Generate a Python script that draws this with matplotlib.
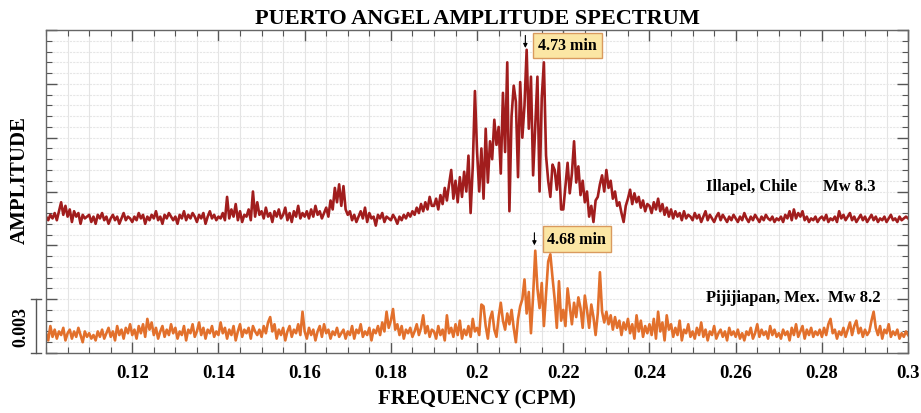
import numpy as np
import matplotlib
matplotlib.use('Agg')
import matplotlib.pyplot as plt
from matplotlib.ticker import MultipleLocator
from matplotlib.lines import Line2D

# frequency axis (CPM), sampled every 0.0005
freq_start = 0.100
freq_step = 0.0005

# amplitudes in units of 1e-3
illapel = [
    7.6, 7.4, 7.7, 7.5, 7.8, 7.4, 7.9, 8.4, 7.7, 8.2, 7.6, 8.0, 7.3, 7.9, 7.6, 7.8, 7.2, 7.7, 7.5, 7.6,
    7.7, 7.3, 7.6, 7.2, 7.7, 7.5, 7.8, 7.4, 7.6, 7.2, 7.5, 7.7, 7.4, 7.6, 7.2, 7.5, 7.8, 7.4, 7.6, 7.5,
    7.3, 7.6, 7.4, 7.8, 7.5, 7.7, 7.2, 7.6, 7.4, 7.7, 7.5, 7.9, 7.4, 7.6, 7.2, 7.7, 7.5, 7.8, 7.6, 7.4,
    7.6, 7.2, 7.7, 7.5, 7.9, 7.4, 7.7, 7.5, 7.8, 7.6, 7.3, 7.7, 7.5, 7.8, 7.2, 7.6, 7.9, 7.5, 7.7, 7.4,
    7.6, 7.5, 7.8, 7.4, 8.7, 7.5, 8.0, 7.6, 8.3, 7.4, 7.9, 7.3, 7.7, 7.6, 8.0, 7.4, 9.0, 7.6, 8.4, 7.7,
    7.9, 7.5, 8.1, 7.6, 7.8, 7.3, 7.9, 7.6, 8.0, 7.5, 7.7, 8.1, 7.4, 7.8, 7.3, 7.9, 7.6, 8.2, 7.5, 7.8,
    7.6, 7.9, 7.5, 8.0, 7.6, 8.2, 7.7, 7.9, 7.5, 7.8, 8.1, 7.6, 8.5, 8.0, 9.2, 8.4, 9.4, 8.2, 9.3, 8.0,
    7.7, 7.9, 7.4, 7.7, 7.3, 7.6, 7.9, 7.5, 8.1, 7.3, 7.8, 7.5, 7.6, 7.1, 7.7, 7.5, 7.8, 7.3, 7.6, 7.5,
    7.4, 7.7, 7.5, 7.2, 7.6, 7.4, 7.7, 7.5, 7.8, 7.6, 7.9, 7.7, 8.1, 7.8, 8.3, 7.9, 8.4, 8.0, 8.7, 8.2,
    8.2, 8.6, 8.0, 8.8, 8.3, 9.2, 8.5, 9.4, 10.2, 8.6, 9.6, 8.4, 9.8, 8.7, 10.1, 9.0, 11.0, 7.8, 10.4, 14.6,
    11.2, 9.0, 11.4, 8.6, 12.5, 9.5, 11.8, 10.8, 13.0, 11.6, 12.6, 10.0, 14.5, 11.2, 16.2, 7.9, 13.2, 14.9, 14.0, 9.8,
    15.1, 12.0, 13.8, 16.9, 12.5, 15.4, 9.9, 12.6, 15.4, 9.0, 14.2, 16.2, 11.0, 9.6, 8.7, 10.5, 10.2, 9.1, 10.6, 8.0,
    8.0, 9.3, 10.6, 8.9, 10.0, 11.8, 9.5, 10.4, 8.8, 9.6, 8.4, 9.0, 7.6, 8.2, 7.3, 8.5, 8.7, 9.4, 9.9, 9.0,
    10.2, 9.2, 9.6, 8.6, 9.0, 8.2, 8.4, 7.8, 7.3, 8.2, 8.6, 9.1, 8.3, 8.9, 8.4, 8.7, 8.1, 8.5, 7.9, 8.3,
    8.2, 7.8, 8.4, 8.0, 8.6, 7.9, 8.3, 7.7, 8.1, 7.6, 8.0, 7.5, 7.9, 7.6, 7.8, 7.4, 7.9, 7.5, 7.7, 7.6,
    7.4, 7.8, 7.5, 7.7, 7.3, 7.6, 7.9, 7.4, 7.7, 7.5, 7.3, 7.6, 7.8, 7.4, 7.7, 7.5, 7.3, 7.6, 7.4, 7.7,
    7.5, 7.3, 7.6, 7.4, 7.8, 7.5, 7.3, 7.6, 7.4, 7.7, 7.5, 7.3, 7.6, 7.4, 7.7, 7.5, 7.4, 7.6, 7.3, 7.5,
    7.4, 7.6, 7.3, 7.7, 7.5, 7.9, 7.4, 8.0, 7.5, 7.8, 7.6, 7.9, 7.4, 7.6, 7.3, 7.5, 7.4, 7.6, 7.3, 7.5,
    7.6, 7.4, 7.7, 7.3, 7.5, 7.4, 7.6, 7.3, 7.9, 7.5, 7.7, 7.4, 7.6, 7.8, 7.4, 7.6, 7.3, 7.5, 7.7, 7.4,
    7.6, 7.3, 7.5, 7.7, 7.4, 7.6, 7.3, 7.5, 7.4, 7.6, 7.3, 7.5, 7.7, 7.4, 7.5, 7.3, 7.6, 7.4, 7.5, 7.6, 7.5,
]

pijijiapan = [
    1.1, 0.7, 1.5, 0.9, 1.3, 0.8, 1.2, 1.0, 1.4, 0.7, 1.1, 1.3, 0.8, 1.2, 0.9, 1.4, 1.0, 0.6, 1.2, 0.9,
    1.1, 0.8, 1.0, 0.7, 1.2, 0.9, 1.3, 0.8, 1.1, 1.4, 0.9, 1.2, 0.7, 1.5, 1.0, 1.3, 0.8, 1.4, 1.1, 1.6,
    1.0, 1.3, 0.8, 1.5, 1.1, 1.6, 0.9, 1.9, 1.3, 1.7, 1.0, 1.4, 0.8, 1.2, 1.5, 0.9, 1.3, 1.0, 1.6, 1.1,
    1.4, 0.8, 1.2, 1.0, 1.5, 0.7, 1.3, 1.1, 1.6, 0.9, 1.2, 1.7, 1.0, 1.4, 0.8, 1.3, 1.1, 1.5, 0.9, 1.2,
    1.0, 1.7, 1.1, 1.4, 0.8, 1.3, 1.0, 1.5, 0.7, 1.2, 1.6, 0.9, 1.3, 1.1, 1.4, 0.8, 1.5, 1.2, 1.0, 1.3,
    0.9, 1.5, 1.1, 1.7, 2.0, 1.2, 1.6, 0.8, 1.3, 1.0, 1.4, 0.7, 1.2, 1.5, 0.9, 1.3, 1.1, 1.6, 1.0, 2.3,
    1.2, 0.8, 1.4, 1.0, 1.3, 0.7, 1.2, 1.5, 0.9, 1.6, 1.1, 1.3, 0.8, 1.2, 1.0, 1.4, 0.9, 1.1, 1.3, 0.8,
    1.2, 1.0, 1.5, 0.8, 1.3, 1.1, 1.6, 0.9, 1.2, 1.0, 1.4, 0.7, 1.3, 1.1, 1.5, 1.0, 1.7, 1.2, 2.3, 1.4,
    1.8, 2.45, 1.3, 1.6, 1.0, 1.5, 0.8, 1.3, 1.1, 1.4, 0.9, 1.2, 1.6, 1.0, 1.4, 2.1, 1.1, 1.5, 0.9, 1.3,
    1.2, 0.8, 1.5, 1.0, 1.3, 0.7, 2.1, 1.1, 1.4, 0.9, 1.6, 1.0, 1.8, 0.8, 1.3, 1.0, 1.5, 0.9, 1.9, 1.2,
    1.4, 1.0, 2.7, 2.6, 1.5, 0.8, 1.9, 2.3, 1.3, 0.9, 2.0, 2.8, 1.8, 1.3, 2.2, 1.6, 2.4, 1.4, 0.6, 1.9,
    2.6, 3.0, 4.1, 2.2, 3.4, 1.1, 3.2, 5.7, 3.6, 2.5, 3.9, 1.5, 3.3, 5.1, 5.5, 4.2, 3.0, 1.4, 4.0, 1.8,
    2.4, 1.5, 3.6, 2.6, 1.6, 2.8, 2.0, 3.1, 2.5, 1.4, 3.2, 2.4, 1.4, 2.7, 2.0, 1.0, 2.2, 4.5, 2.3, 1.7,
    2.3, 1.6, 2.1, 1.3, 2.0, 1.4, 1.8, 1.0, 1.7, 1.3, 1.9, 1.1, 1.6, 0.8, 2.1, 1.2, 1.8, 0.9, 1.5, 1.1,
    1.6, 1.0, 1.9, 0.8, 2.3, 1.2, 1.7, 0.7, 2.1, 1.3, 1.6, 0.9, 1.4, 1.0, 1.8, 0.7, 1.3, 1.1, 1.6, 0.9,
    1.2, 0.8, 1.4, 1.0, 1.7, 0.9, 1.3, 0.7, 1.2, 1.0, 1.5, 0.8, 1.1, 1.3, 0.9, 1.2, 0.7, 1.4, 1.0, 1.2,
    0.9, 1.3, 0.8, 1.1, 0.7, 1.2, 1.0, 1.4, 0.8, 1.1, 1.6, 0.9, 1.3, 1.0, 1.2, 0.8, 1.5, 1.0, 1.3, 0.9,
    1.1, 0.8, 1.3, 1.0, 1.2, 0.7, 1.4, 1.0, 1.6, 0.9, 1.2, 1.5, 0.8, 1.3, 1.0, 1.4, 0.9, 1.2, 1.0, 1.3,
    0.9, 1.4, 1.0, 1.6, 1.9, 1.1, 1.3, 0.8, 1.2, 1.0, 1.4, 0.9, 1.3, 1.7, 1.0, 1.5, 1.8, 1.1, 1.4, 0.9,
    1.3, 1.0, 1.2, 1.8, 2.3, 1.4, 1.0, 1.5, 0.8, 1.3, 1.1, 1.6, 0.9, 1.2, 1.0, 1.3, 0.8, 1.1, 0.9, 1.2, 1.0,
]

xtick_vals = [0.12, 0.14, 0.16, 0.18, 0.20, 0.22, 0.24, 0.26, 0.28, 0.30]
xtick_labels = ['0.12', '0.14', '0.16', '0.18', '0.2', '0.22', '0.24', '0.26', '0.28', '0.3']

# peak marks: frequency, arrow tip, arrow tail, label box height (1e-3 units), label
peak_marks = [
    (0.2112, 17.0, 17.7, 17.15, '4.73 min'),
    (0.2133, 6.0, 6.7, 6.35, '4.68 min'),
]

red = '#a11d1d'
orange = '#e2702c'

plt.rcParams['font.family'] = ['Liberation Serif', 'DejaVu Serif']
plt.rcParams['font.weight'] = 'bold'

freq = freq_start + freq_step * np.arange(len(illapel))
amp1 = np.array(illapel) * 1e-3
amp2 = np.array(pijijiapan) * 1e-3

fig = plt.figure(figsize=(9.21, 4.14), dpi=100)
ax = fig.add_axes([0.050, 0.145, 0.936, 0.780])

ax.plot(freq, amp1, color=red, lw=1.9)
ax.plot(freq, amp2, color=orange, lw=1.9)

ax.set_xlim(0.1, 0.3)
ax.set_ylim(0, 0.018)
ax.xaxis.set_minor_locator(MultipleLocator(0.005))
ax.yaxis.set_major_locator(MultipleLocator(0.003))
ax.yaxis.set_minor_locator(MultipleLocator(0.0006))
ax.set_xticks(xtick_vals)
ax.set_xticklabels(xtick_labels, fontsize=13.5, fontweight='bold')
ax.set_yticklabels([])
ax.tick_params(which='both', direction='in', top=True, right=True, color='#555555')
ax.tick_params(which='major', length=8, width=1)
ax.tick_params(which='minor', length=4, width=0.8)
ax.tick_params(axis='x', pad=8)

ax.grid(which='both', axis='x', color='#e4e4e4', lw=0.8)
ax.grid(which='both', axis='y', color='#e6e6e6', lw=0.8, linestyle=(0, (2, 1)))
ax.set_axisbelow(True)
for s in ax.spines.values():
    s.set_color('#666666')
    s.set_linewidth(1.0)

ax.set_title('PUERTO ANGEL AMPLITUDE SPECTRUM', fontsize=16, fontweight='bold', pad=5)
ax.set_xlabel('FREQUENCY (CPM)', fontsize=15, fontweight='bold', labelpad=5)
fig.text(0.022, 0.565, 'AMPLITUDE', rotation=90, fontsize=15, fontweight='bold',
         ha='center', va='center')

# scale bar on the left
bar_x = -0.0115
ax.add_line(Line2D([bar_x, bar_x], [0, 0.003], transform=ax.get_yaxis_transform(),
                   color='#555555', lw=1, clip_on=False))
for yv in (0, 0.003):
    ax.add_line(Line2D([bar_x - 0.006, bar_x + 0.006], [yv, yv], transform=ax.get_yaxis_transform(),
                       color='#555555', lw=1, clip_on=False))
ax.text(-0.029, 0.0015, '0.003', transform=ax.get_yaxis_transform(), rotation=90,
        fontsize=13, fontweight='bold', ha='center', va='center')

# event labels
ax.text(0.2531, 0.0093, 'Illapel, Chile', fontsize=12, fontweight='bold', ha='left', va='center')
ax.text(0.2803, 0.0093, 'Mw 8.3', fontsize=12, fontweight='bold', ha='left', va='center')
ax.text(0.2531, 0.0031, 'Pijijiapan, Mex.  Mw 8.2', fontsize=12, fontweight='bold', ha='left', va='center')

# peak markers
box = dict(boxstyle='square,pad=0.3', facecolor='#fbe6a4', edgecolor='#d99a5e', lw=1)
for fx, tip, tail, ybox, lab in peak_marks:
    ax.annotate('', xy=(fx, tip * 1e-3), xytext=(fx, tail * 1e-3),
                arrowprops=dict(arrowstyle='-|>', color='black', lw=0.8, mutation_scale=6,
                                shrinkA=0, shrinkB=0))
    ax.text(fx + 0.0030, ybox * 1e-3, lab, fontsize=11.5, fontweight='bold',
            ha='left', va='center', bbox=box)

fig.savefig('out.png', dpi=100)
